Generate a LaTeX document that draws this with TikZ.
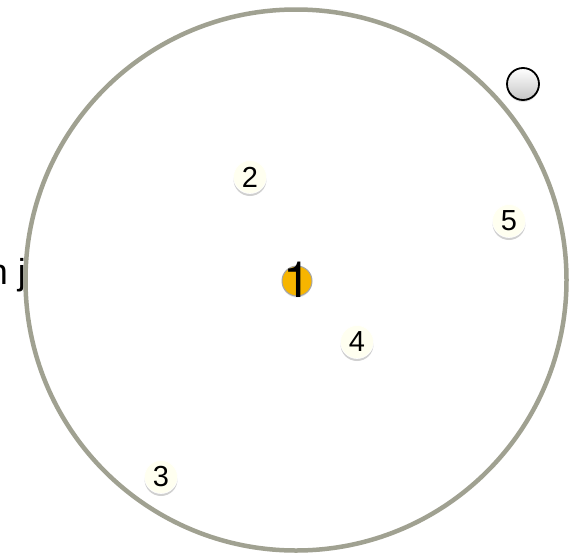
\documentclass[tikz,border=0pt]{standalone}
\usepackage{fontspec}
\setmainfont{Liberation Sans}
\newfontfamily\heros{TeX Gyre Heros}
\usetikzlibrary{shadows}
\definecolor{ringgray}{HTML}{A0A191}
\definecolor{cream}{HTML}{FFFFF0}
\definecolor{gold}{HTML}{F7B500}
\begin{document}
\begin{tikzpicture}[x=1pt,y=-1pt,
  numdot/.style={circle, minimum size=33pt, inner sep=0pt, fill=cream, draw=white, line width=0.6pt,
    drop shadow={shadow xshift=0pt, shadow yshift=-2.5pt, opacity=0.3, fill=black!60},
    font=\fontsize{29}{29}\selectfont},
  hubdot/.style={circle, minimum size=30pt, inner sep=0pt, fill=gold, draw=gray!70, line width=1pt,
    drop shadow={shadow xshift=0pt, shadow yshift=-1.5pt, opacity=0.2}},
  ring/.style={draw=ringgray, line width=4.5pt}
]
\useasboundingbox (0,0) rectangle (570,557);
\fill[white] (0,0) rectangle (570,557);
\node[anchor=base east, inner sep=0pt, font=\fontsize{36}{36}\selectfont] (txt) at (26,284) {n j};
\node[circle, ring, minimum size=541pt, inner sep=0pt] (big) at (296,280) {};
\node[circle, minimum size=32pt, inner sep=0pt, draw=black, line width=1.8pt,
  top color=white, bottom color=gray!45,
  drop shadow={shadow xshift=0pt, shadow yshift=-2pt, opacity=0.25}] (outer) at (523,84) {};
\node[numdot] (n2) at (250,177) {2};
\node[numdot] (n5) at (509,221) {5};
\node[numdot] (n4) at (357,342) {4};
\node[numdot] (n3) at (161,477) {3};
\node[hubdot] (n1) at (297,281) {};
\node[anchor=base, font=\heros\fontsize{50}{50}\selectfont, inner sep=0pt] (lab1) at (297,297) {1};
\end{tikzpicture}
\end{document}
